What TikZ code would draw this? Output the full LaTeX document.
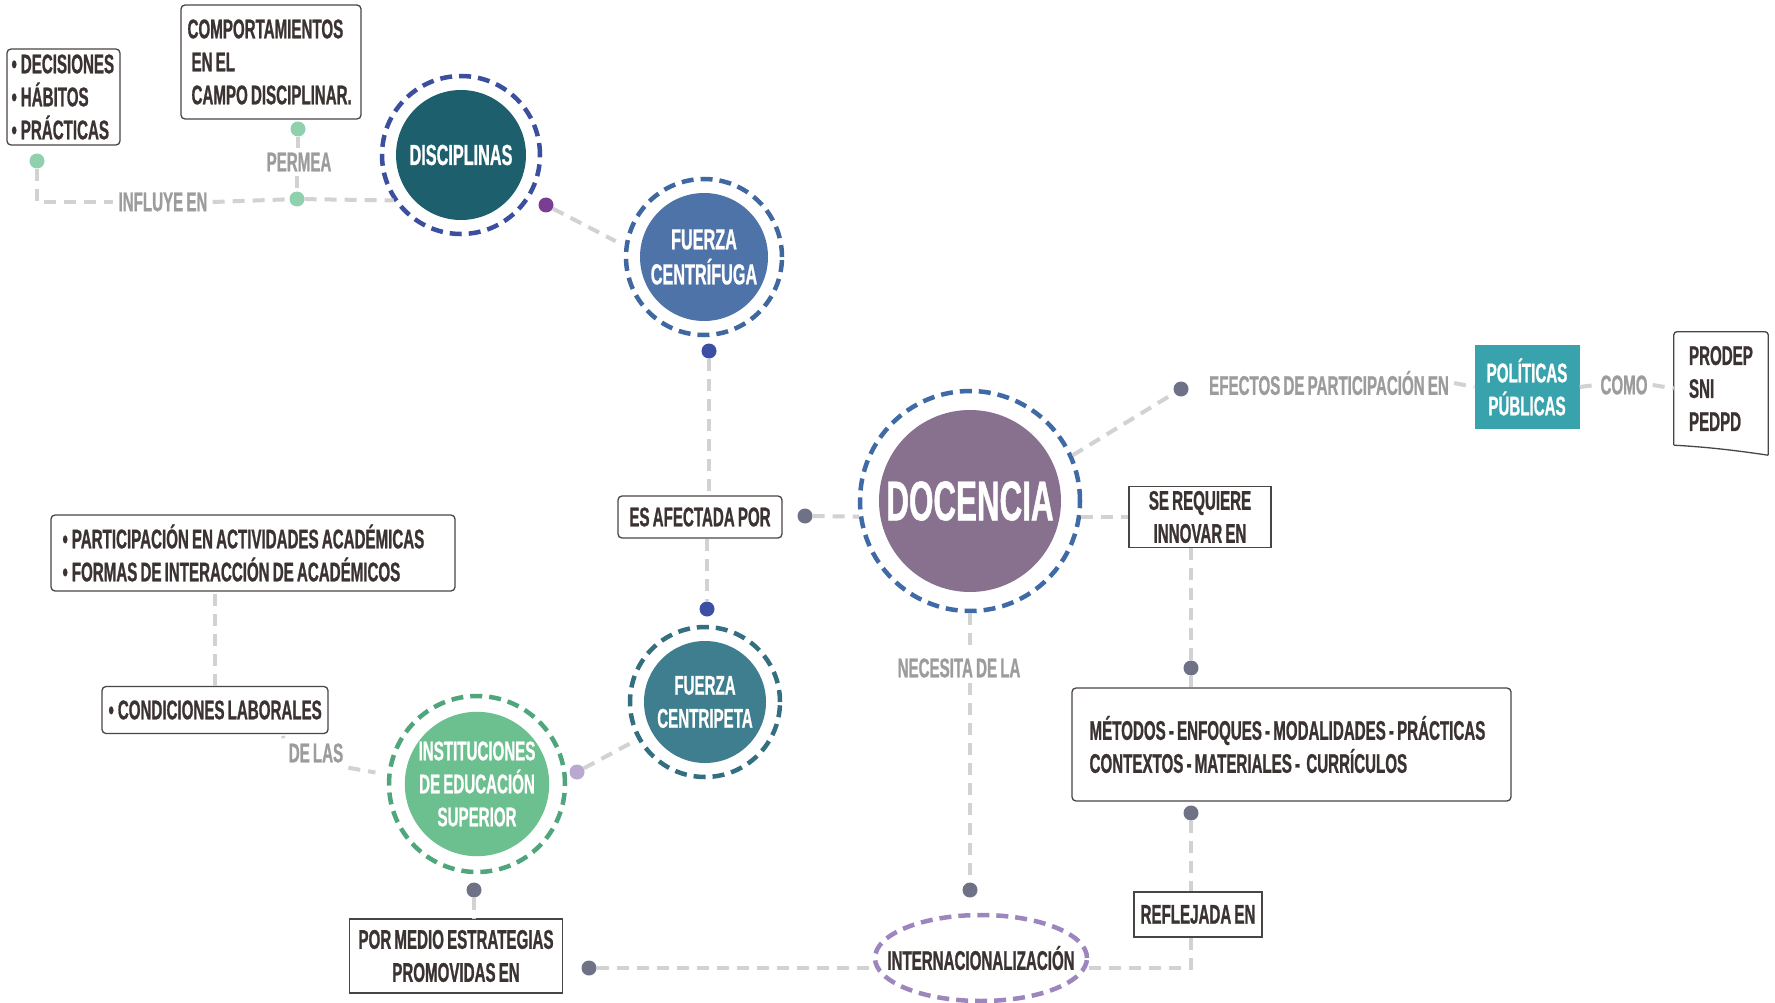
\documentclass[tikz,border=0pt]{standalone}
\usepackage{fontspec}
\setmainfont{Liberation Sans}[FakeStretch=0.56, WordSpace=0.75, BoldFeatures={FakeBold=0.8}]
\usetikzlibrary{calc,shapes.geometric}
\definecolor{linec}{HTML}{D2D2D2}
\definecolor{labc}{HTML}{9C9C9C}
\definecolor{txtc}{HTML}{3B3232}
\definecolor{boxc}{HTML}{4A4545}
\definecolor{disF}{HTML}{1E5F6E}
\definecolor{disRc}{HTML}{3B4F9E}
\definecolor{cenF}{HTML}{4D73A8}
\definecolor{cenRc}{HTML}{4068A0}
\definecolor{cptF}{HTML}{3E7E8E}
\definecolor{cptRc}{HTML}{336F80}
\definecolor{iesF}{HTML}{6CBF8E}
\definecolor{iesRc}{HTML}{50A67C}
\definecolor{docF}{HTML}{88708F}
\definecolor{docRc}{HTML}{3F6AA5}
\definecolor{intRc}{HTML}{9D85BD}
\definecolor{polF}{HTML}{38A3AD}
\definecolor{dGreen}{HTML}{8FD1AD}
\definecolor{dPurple}{HTML}{7B3D91}
\definecolor{dBlue}{HTML}{3D4FA5}
\definecolor{dGray}{HTML}{6F7287}
\definecolor{dLilac}{HTML}{B9A8CF}
\newcommand\bxf{\fontsize{27}{33}\selectfont\bfseries}
\newcommand\cfa{\fontsize{29}{35}\selectfont\bfseries}
\newcommand\cfb{\fontsize{27}{33}\selectfont\bfseries}
\newcommand\bul{•\hspace{4pt}}
\begin{document}
\begin{tikzpicture}[x=1pt,y=-1pt,
  conn/.style={draw=linec, line width=4pt, dash pattern=on 12pt off 8pt},
  ringS/.style={circle, draw=#1, line width=4.5pt, dash pattern=on 12pt off 7pt, inner sep=0pt},
  disc/.style={circle, fill=#1, text=white, inner sep=0pt, align=center},
  dotS/.style={circle, fill=#1, inner sep=0pt, minimum size=15pt},
  box/.style={draw=boxc, line width=1.3pt, rounded corners=4pt, text=txtc, inner sep=0pt, font=\bxf, fill=white},
  sbox/.style={box, rounded corners=0pt},
  btxt/.style={text=txtc, font=\bxf, inner sep=0pt, align=left, anchor=west},
  lab/.style={text=labc, font=\bxf, inner sep=5pt}]
\fill[white] (0,0) rectangle (1775,1003);
\path[use as bounding box] (0,0) rectangle (1775,1003);

% boxes
\node[box, minimum width=113pt, minimum height=96pt] (dec) at (63.5,97) {};
\node[btxt] (decT) at ($(dec.west)+(5,0)$) {\bul DECISIONES\\\bul HÁBITOS\\\bul PRÁCTICAS};
\node[box, minimum width=180pt, minimum height=114pt] (comp) at (271,62) {};
\node[btxt] (compT) at ($(comp.west)+(7,0)$) {COMPORTAMIENTOS\\\hspace*{4pt}EN EL\\\hspace*{4pt}CAMPO DISCIPLINAR.};
\node[box, minimum width=404pt, minimum height=76pt] (part) at (253,553) {};
\node[btxt] (partT) at ($(part.west)+(12,0)$) {\bul PARTICIPACIÓN EN ACTIVIDADES ACADÉMICAS\\\bul FORMAS DE INTERACCIÓN DE ACADÉMICOS};
\node[box, minimum width=226pt, minimum height=47pt] (cond) at (215,710) {};
\node[btxt] (condT) at ($(cond.west)+(7,0)$) {\bul CONDICIONES LABORALES};
\node[box, minimum width=164pt, minimum height=42pt, align=center] (afect) at (700,517) {ES AFECTADA POR};
\node[sbox, minimum width=213pt, minimum height=74pt, align=center] (pormedio) at (456,956) {POR MEDIO ESTRATEGIAS\\PROMOVIDAS EN};
\node[sbox, minimum width=142pt, minimum height=61pt, align=center] (serq) at (1200,517) {SE REQUIERE\\INNOVAR EN};
\node[box, minimum width=439pt, minimum height=113pt] (met) at (1291.5,744.5) {};
\node[btxt] (metT) at ($(met.west)+(18,0)$) {MÉTODOS - ENFOQUES - MODALIDADES - PRÁCTICAS\\CONTEXTOS - MATERIALES -\ \ CURRÍCULOS};
\node[sbox, minimum width=128pt, minimum height=45pt, align=center] (refl) at (1198,914.5) {REFLEJADA EN};
\node[fill=polF, text=white, font=\bxf, inner sep=0pt, minimum width=105pt, minimum height=84pt, align=center] (pol) at (1527,387) {POLÍTICAS\\PÚBLICAS};
\node[inner sep=0pt, minimum width=94pt, minimum height=113pt] (prodep) at (1721,388.5) {};
\node[btxt] (prodepT) at ($(prodep.west)+(15,0)$) {PRODEP\\SNI\\PEDPD};
\draw[boxc, line width=1.3pt, rounded corners=3pt] (prodep.south west) -- (prodep.north west) -- (prodep.north east) -- ($(prodep.south east)+(0,10)$);
\draw[boxc, line width=1.3pt] (prodep.south west) .. controls ($(prodep.south)+(-10,2)$) and ($(prodep.south)+(20,6)$) .. ($(prodep.south east)+(0,10)$);

% circles
\node[ringS=disRc, minimum size=158pt] (disR) at (461,155) {};
\node[disc=disF, minimum size=130pt, font=\cfa] (dis) at (461,155) {DISCIPLINAS};
\node[ringS=cenRc, minimum size=156pt] (cenR) at (704,257) {};
\node[disc=cenF, minimum size=128pt, font=\cfa] (cen) at (704,257) {FUERZA\\CENTRÍFUGA};
\node[ringS=cptRc, minimum size=150pt] (cptR) at (705,702) {};
\node[disc=cptF, minimum size=122pt, font=\cfb] (cpt) at (705,702) {FUERZA\\CENTRIPETA};
\node[ringS=iesRc, minimum size=176pt] (iesR) at (477,784) {};
\node[disc=iesF, minimum size=142pt, font=\cfb] (ies) at (477,784) {INSTITUCIONES\\DE EDUCACIÓN\\SUPERIOR};
\node[ringS=docRc, minimum size=220pt] (docR) at (970,501) {};
\node[disc=docF, minimum size=182pt, font=\fontsize{56}{60}\selectfont\bfseries] (doc) at (970,501) {DOCENCIA};
\node[ellipse, draw=intRc, line width=4.5pt, dash pattern=on 12pt off 7pt, inner sep=0pt, minimum width=212pt, minimum height=86pt] (intl) at (981,958) {};
\node[text=txtc, font=\cfb, inner sep=0pt] (intlT) at (intl.center) {INTERNACIONALIZACIÓN};

% labels
\node[lab] (influye) at (163,202) {INFLUYE EN};
\node[lab] (permea) at (299,162) {PERMEA};
\node[lab] (delas) at (316,753) {DE LAS};
\node[lab] (necesita) at (959,668) {NECESITA DE LA};
\node[lab] (efectos) at (1329,383) {EFECTOS DE PARTICIPACIÓN EN};
\node[lab] (como) at (1624,385) {COMO};

% dots
\node[dotS=dGreen] (dotA) at (37,161) {};
\node[dotS=dGreen] (dotB) at (297,199) {};
\node[dotS=dGreen] (dotC) at (298,129) {};
\node[dotS=dPurple] (dotD) at (546,205) {};
\node[dotS=dBlue] (dotE) at (709,351) {};
\node[dotS=dGray] (dotF) at (805,516) {};
\node[dotS=dBlue] (dotG) at (707,609) {};
\node[dotS=dLilac] (dotH) at (577,772) {};
\node[dotS=dGray] (dotI) at (474,890) {};
\node[dotS=dGray] (dotJ) at (589,968) {};
\node[dotS=dGray] (dotK) at (970,890) {};
\node[dotS=dGray] (dotL) at (1181,389) {};
\node[dotS=dGray] (dotM) at (1191,668) {};
\node[dotS=dGray] (dotN) at (1191,813) {};
\coordinate (condDL) at (283,736);
\coordinate (corner) at (1191,968);

% connectors
\draw[conn] (dotA) |- (influye.west);
\draw[conn] (influye.east) -- (dotB);
\draw[conn] (dotB) -- (disR.214);
\draw[conn] (dotC) -- (dotC |- permea.north);
\draw[conn] (dotB |- permea.south) -- (dotB);
\draw[conn, shorten >=10pt] (dotD) -- (cenR.172);
\draw[conn] (dotE) -- (dotE |- afect.north);
\draw[conn] (dotG |- afect.south) -- (dotG);
\draw[conn] (dotF) -- (docR.188);
\draw[conn, shorten >=4pt] (dotH) -- (cptR.209);
\draw[conn] (cond.north) -- (cond.north |- part.south);
\draw[conn] (condDL) -- (delas.north west);
\draw[conn, shorten >=12pt] (delas.south east) -- (iesR.174);
\draw[conn] (dotI) -- (dotI |- pormedio.north);
\draw[conn] (dotJ) -- (intl.west |- dotJ);
\draw[conn] (docR.south) -- (docR.south |- necesita.north);
\draw[conn] (dotK |- necesita.south) -- (dotK);
\draw[conn] (docR.24) -- (dotL);
\draw[conn] (efectos.east) -- (pol.west);
\draw[conn] (pol.east) -- (como.west);
\draw[conn] (como.east) -- (prodep.west);
\draw[conn] (docR.-8) -- (serq.west |- docR.-8);
\draw[conn] (dotM |- serq.south) -- (dotM);
\draw[conn] (dotM) -- (dotM |- met.north);
\draw[conn] (dotN) -- (dotN |- refl.north);
\draw[conn] (corner |- refl.south) -- (corner) -- (intl.east |- corner);
\end{tikzpicture}
\end{document}
